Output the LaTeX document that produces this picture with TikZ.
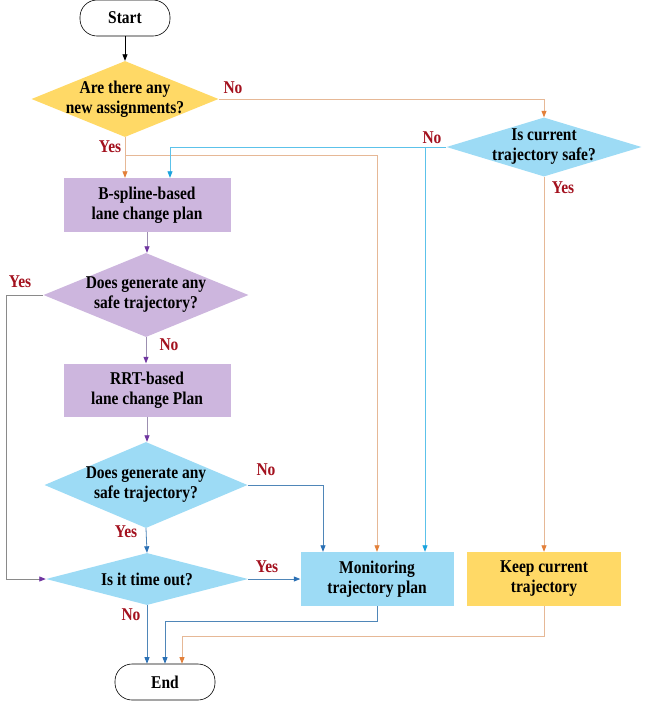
\documentclass[tikz,border=0pt]{standalone}
\usepackage{fontspec}
\setmainfont{Liberation Serif}
\newfontfamily\condfont{Liberation Serif}[FakeStretch=0.86]
\usetikzlibrary{shapes.geometric,arrows.meta,calc}
\definecolor{cyel}{HTML}{FFD966}
\definecolor{cblue}{HTML}{9DDBF5}
\definecolor{cpur}{HTML}{CDB6DE}
\definecolor{lblred}{HTML}{A3111E}
\definecolor{lorange}{HTML}{E6B896}
\definecolor{aorange}{HTML}{E3803A}
\definecolor{lcyan}{HTML}{5CC2EA}
\definecolor{acyan}{HTML}{1AA3DD}
\definecolor{lsteel}{HTML}{4F86B8}
\definecolor{asteel}{HTML}{2A70B5}
\definecolor{lpurp}{HTML}{9C8FB0}
\definecolor{apurp}{HTML}{6F35A0}
\definecolor{lgrey}{HTML}{8A8A8A}
\begin{document}
\begin{tikzpicture}[x=1pt,y=-1pt,
  txt/.style={font=\condfont\fontsize{18}{20}\selectfont\bfseries, align=center, text=black},
  term/.style={draw=black, line width=0.6pt, fill=white, rectangle, rounded corners=17pt, minimum width=#1, minimum height=36pt, inner sep=0pt, txt},
  dia/.style={diamond, fill=#1, draw=none, inner sep=0pt},
  box/.style={rectangle, fill=#1, draw=none, inner sep=0pt, txt},
  lab/.style={font=\condfont\fontsize{18}{20}\selectfont\bfseries, text=lblred, inner sep=0pt},
  tipo/.style={-{Triangle[length=6.5pt,width=5pt,color=#1]}},
  conn/.style={line width=0.8pt}
]
\useasboundingbox (0,0) rectangle (650,702);

% nodes
\node[term=90pt] (start) at (125,18) {Start};
\node[dia=cyel, minimum width=187pt, minimum height=76pt] (d1) at (125,99) {};
\node[txt] (d1t) at (d1) {Are there any\\new assignments?};
\node[dia=cblue, minimum width=195pt, minimum height=59pt] (d2) at (544,147) {};
\node[txt] (d2t) at (d2) {Is current\\trajectory safe?};
\node[box=cpur, minimum width=167pt, minimum height=54pt] (bs) at (147,205) {B-spline-based\\lane change plan};
\node[dia=cpur, minimum width=205pt, minimum height=84pt] (d3) at (146,295) {};
\node[txt] (d3t) at (d3) {Does generate any\\safe trajectory?};
\node[box=cpur, minimum width=167pt, minimum height=53pt] (rrt) at (147,390) {RRT-based\\lane change Plan};
\node[dia=cblue, minimum width=203pt, minimum height=86pt] (d4) at (146,485) {};
\node[txt] (d4t) at (d4) {Does generate any\\safe trajectory?};
\node[dia=cblue, minimum width=202pt, minimum height=52pt] (d5) at (147,579) {};
\node[txt] (d5t) at (d5) {Is it time out?};
\node[box=cblue, minimum width=153pt, minimum height=54pt] (mon) at (377,579) {Monitoring\\trajectory plan};
\node[box=cyel, minimum width=154pt, minimum height=54pt] (keep) at (544,579) {Keep current\\trajectory};
\node[term=100pt] (end) at (165,682) {End};

% junction coordinates
\coordinate (j1) at ($(d1.south)+(0,18)$);
\coordinate (j2) at (425,147);
\coordinate (j3) at (6,295);
\coordinate (j4) at (6,579);
\coordinate (j5) at ($(mon.south)+(0,15)$);
\coordinate (j6) at ($(keep.south)+(0,30)$);

% connectors
\draw[conn, black, tipo=black] (start) -- (d1);
\draw[conn, lorange, tipo=aorange] (d1.east) -| (d2.north);
\draw[conn, lorange, tipo=aorange] (d1.south) -- (d1.south |- bs.north);
\draw[conn, lorange, tipo=aorange] (j1) -| (mon.north);
\draw[conn, lcyan, tipo=acyan] (d2.west) -| ($(bs.north)+(23,0)$);
\draw[conn, lcyan, tipo=acyan] (j2) -- (j2 |- mon.north);
\draw[conn, lorange, tipo=aorange] (d2.south) -- (keep.north);
\draw[conn, lpurp, tipo=apurp] (bs.south) -- (bs.south |- d3.north);
\draw[conn, lgrey, tipo=apurp] (d3.west) -- (j3) -- (j4) -- (d5.west);
\draw[conn, lpurp, tipo=apurp] (d3.south) -- (d3.south |- rrt.north);
\draw[conn, lpurp, tipo=apurp] (rrt.south) -- (rrt.south |- d4.north);
\draw[conn, lsteel, tipo=asteel] (d4.east) -| ($(mon.north)+(-54,0)$);
\draw[conn, lsteel, tipo=asteel] (d4.south) -- (d5.north);
\draw[conn, lsteel, tipo=asteel] (d5.east) -- (mon.west);
\draw[conn, lsteel, tipo=asteel] (d5.south) -- (d5.south |- end.north);
\draw[conn, lsteel, tipo=asteel] (mon.south) -- (j5) -| (end.north);
\draw[conn, lorange, tipo=aorange] (keep.south) -- (j6) -| ($(end.north)+(17,0)$);

% labels
\node[lab] (l1) at (233,88) {No};
\node[lab] (l2) at (432,138) {No};
\node[lab] (l3) at (110,147) {Yes};
\node[lab] (l4) at (563,188) {Yes};
\node[lab] (l5) at (20,282) {Yes};
\node[lab] (l6) at (169,345) {No};
\node[lab] (l7) at (266,470) {No};
\node[lab] (l8) at (126,532) {Yes};
\node[lab] (l9) at (267,567) {Yes};
\node[lab] (l10) at (131,615) {No};
\end{tikzpicture}
\end{document}
